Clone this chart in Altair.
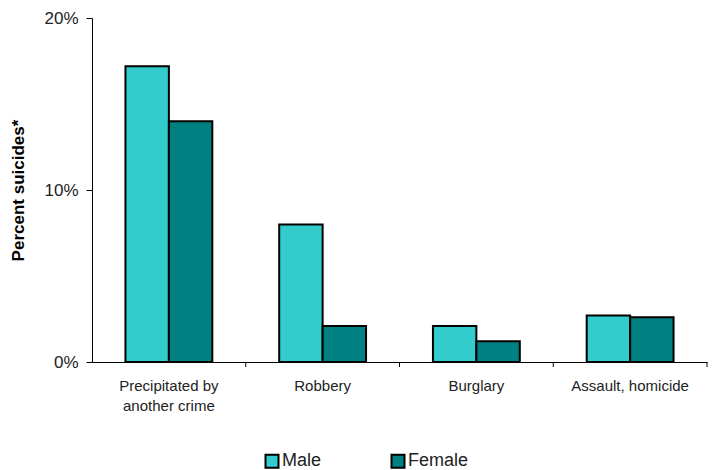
import altair as alt
import pandas as pd

categories = ["Precipitated by another crime", "Robbery", "Burglary", "Assault, homicide"]
sexes = ["Male", "Female"]
male_values = [17.2, 8.0, 2.1, 2.7]
female_values = [14.0, 2.1, 1.2, 2.6]
y_ticks = [0, 10, 20]
colors = ["#33CCCC", "#008080"]

rows = []
for c, m, f in zip(categories, male_values, female_values):
    rows.append({"category": c, "sex": "Male", "value": m})
    rows.append({"category": c, "sex": "Female", "value": f})
df = pd.DataFrame(rows)
cat_df = pd.DataFrame({"category": categories})

FONT = "Liberation Sans"

x_scale = alt.Scale(domain=categories, paddingInner=0, paddingOuter=0)

bars = alt.Chart(df).mark_bar(stroke="black", strokeWidth=2).encode(
    x=alt.X("category:N", scale=x_scale, sort=categories,
            axis=alt.Axis(title=None, labelAngle=0, ticks=False, labelPadding=16,
                          labelFont=FONT, labelFontSize=15, labelColor="#222222",
                          labelLineHeight=20, labelLimit=300,
                          domainColor="black", domainWidth=1,
                          labelExpr="datum.label == 'Precipitated by another crime' ? ['Precipitated by', 'another crime'] : datum.label")),
    xOffset=alt.XOffset("sex:N", sort=sexes,
                        scale=alt.Scale(domain=sexes, paddingInner=0, paddingOuter=0.77)),
    y=alt.Y("value:Q", scale=alt.Scale(domain=[0, 20], nice=False),
            axis=alt.Axis(values=y_ticks, title="Percent suicides*", grid=False,
                          labelExpr="datum.value + '%'", labelFont=FONT, labelFontSize=17,
                          labelColor="#222222", labelPadding=8, tickSize=6, tickColor="black",
                          domainColor="black", titleFont=FONT, titleFontSize=17,
                          titleFontWeight="bold", titleColor="black", titleAngle=-90,
                          titleX=-74, titleY=172, titleBaseline="middle", titleAlign="center")),
    color=alt.Color("sex:N", sort=sexes, scale=alt.Scale(domain=sexes, range=colors),
                    legend=alt.Legend(title=None, orient="none", legendX=171, legendY=434,
                                      direction="horizontal", symbolType="square",
                                      symbolSize=169, symbolStrokeColor="black",
                                      symbolStrokeWidth=2, labelFont=FONT, labelFontSize=18,
                                      labelColor="#222222", labelOffset=1, columnPadding=65,
                                      padding=0)),
)

ticks = alt.Chart(cat_df).mark_rule(color="black", strokeWidth=1).encode(
    x=alt.X("category:N", scale=x_scale, sort=categories, bandPosition=1),
    y=alt.value(344),
    y2=alt.value(349),
)

chart = alt.layer(bars, ticks).properties(
    width=615, height=344,
    autosize=alt.AutoSizeParams(type="none"),
    padding={"left": 84, "top": 10, "right": 1, "bottom": 108},
).configure_view(stroke=None).configure_axis(domainWidth=1)

chart.save("out.html", embed_options={"renderer": "svg", "actions": False})
